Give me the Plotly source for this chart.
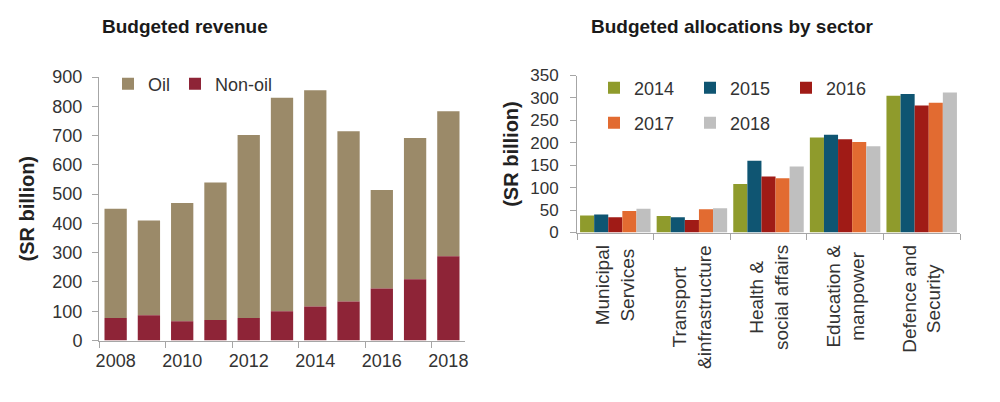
import plotly.graph_objects as go

# ---------------- data ----------------
years = ["2008", "2009", "2010", "2011", "2012", "2013", "2014", "2015", "2016", "2017", "2018"]
oil = [373, 324, 404, 470, 625, 729, 739, 582, 336, 483, 495]
non_oil = [77, 86, 66, 70, 77, 100, 116, 133, 178, 209, 288]

sectors = ["Municipal<br>Services", "Transport<br>&infrastructure", "Health &<br>social affairs",
           "Education &<br>manpower", "Defence and<br>Security"]
alloc_years = ["2014", "2015", "2016", "2017", "2018"]
alloc = {
    "2014": [38, 37, 108, 212, 305],
    "2015": [40, 34, 160, 218, 309],
    "2016": [34, 28, 125, 208, 283],
    "2017": [48, 52, 121, 202, 289],
    "2018": [53, 54, 147, 192, 312],
}

left_ticks_y = list(range(0, 901, 100))
right_ticks_y = list(range(0, 351, 50))

# ---------------- styles ----------------
FONT = "Liberation Sans, Arial, sans-serif"
TXT = "#333333"
AX = "#a6a6a6"
c_oil = "#9b8a69"
c_non = "#8e2437"
c_years = {"2014": "#8f9b2c", "2015": "#0f5572", "2016": "#a01b16", "2017": "#e26b31", "2018": "#bfbfbf"}

fig = go.Figure()

# Left chart: stacked via base
fig.add_trace(go.Bar(x=years, y=oil, base=non_oil, name="Oil", marker_color=c_oil,
                     marker_line_width=0, xaxis="x", yaxis="y", offsetgroup="rev",
                     width=0.67, offset=-0.335, legend="legend"))
fig.add_trace(go.Bar(x=years, y=non_oil, name="Non-oil", marker_color=c_non,
                     marker_line_width=0, xaxis="x", yaxis="y", offsetgroup="rev",
                     width=0.67, offset=-0.335, legend="legend"))

# Right chart: grouped
for yr in alloc_years:
    fig.add_trace(go.Bar(x=sectors, y=alloc[yr], name=yr, marker_color=c_years[yr],
                         marker_line_width=0, xaxis="x2", yaxis="y2",
                         legend="legend2" if yr in ("2014", "2015", "2016") else "legend3"))

H = 402.0
def py(px):
    return (H - px) / H

axis_common = dict(showgrid=False, zeroline=False, showline=True, linecolor=AX, linewidth=1,
                   ticks="outside", tickcolor=AX, ticklen=6, automargin=False)

fig.update_layout(
    width=1000, height=402,
    margin=dict(l=0, r=0, t=0, b=0),
    paper_bgcolor="white", plot_bgcolor="white",
    font=dict(family=FONT, color=TXT, size=18),
    barmode="group", bargap=0.08, bargroupgap=0,
    xaxis=dict(domain=[0.099, 0.465], anchor="y", type="category", range=[-0.5, 10.5],
               tickmode="linear", tick0=0, dtick=2, tickson="boundaries", tickangle=0,
               ticklabelstandoff=4,
               tickfont=dict(size=18, color=TXT), **axis_common),
    yaxis=dict(domain=[py(340.5), py(77)], anchor="x", range=[0, 900],
               tickmode="array", tickvals=left_ticks_y, ticklabelstandoff=6,
               tickfont=dict(size=18, color=TXT),
               title=dict(text="<b>(SR billion)</b>", font=dict(size=20, color="#222"), standoff=12),
               **axis_common),
    xaxis2=dict(domain=[0.577, 0.960], anchor="y2", type="category", range=[-0.5, 4.5],
                tickson="boundaries", showticklabels=False, **axis_common),
    yaxis2=dict(domain=[py(232.5), py(75.5)], anchor="x2", range=[0, 350],
                tickmode="array", tickvals=right_ticks_y, ticklabelstandoff=8,
                tickfont=dict(size=17, color=TXT),
                title=dict(text="<b>(SR billion)</b>", font=dict(size=20, color="#222"), standoff=6),
                **axis_common),
    legend=dict(orientation="h", x=0.108, xanchor="left", y=py(84), yanchor="middle",
                bgcolor="rgba(0,0,0,0)", font=dict(size=18, color=TXT), traceorder="normal"),
    legend2=dict(orientation="h", x=0.594, xanchor="left", y=py(88), yanchor="middle",
                 bgcolor="rgba(0,0,0,0)", font=dict(size=18, color=TXT), entrywidth=51),
    legend3=dict(orientation="h", x=0.594, xanchor="left", y=py(123), yanchor="middle",
                 bgcolor="rgba(0,0,0,0)", font=dict(size=18, color=TXT), entrywidth=51),
)

annotations = [
    dict(text="<b>Budgeted revenue</b>", x=0.185, y=py(27), xref="paper", yref="paper",
         xanchor="center", yanchor="middle", showarrow=False, font=dict(size=19, color="#1a1a1a")),
    dict(text="<b>Budgeted allocations by sector</b>", x=0.732, y=py(27), xref="paper", yref="paper",
         xanchor="center", yanchor="middle", showarrow=False, font=dict(size=19, color="#1a1a1a")),
]
for s in sectors:
    annotations.append(dict(text=s, x=s, xref="x2", y=py(243), yref="paper", xanchor="center",
                            yanchor="top", textangle=-90, align="center", showarrow=False,
                            font=dict(size=19, color=TXT)))
fig.update_layout(annotations=annotations)

fig.write_html("out.html")
